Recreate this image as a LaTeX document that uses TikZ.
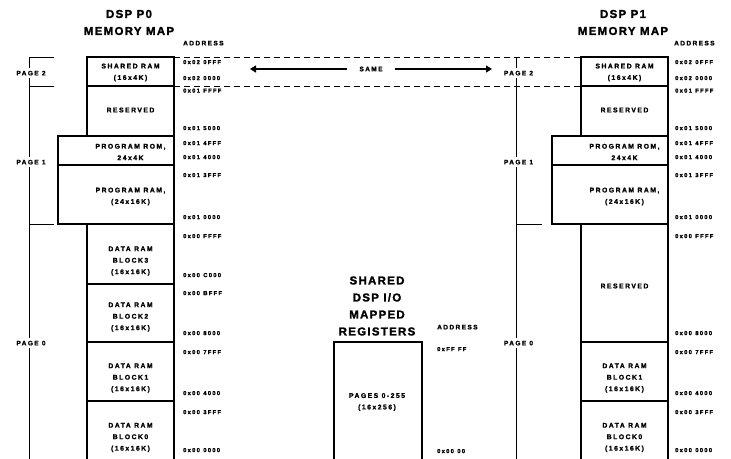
\documentclass[tikz,border=0pt]{standalone}
\usepackage{fontspec}
\usepackage{tikz}
\usetikzlibrary{arrows.meta}
\newfontfamily\mapfont[LetterSpace=22, BoldFeatures={FakeBold=1.6}]{Liberation Sans}
\newfontfamily\headfont[LetterSpace=11, BoldFeatures={FakeBold=1.6}]{Liberation Sans}
\newcommand{\addrfont}{\mapfont\bfseries\fontsize{5.8}{7}\selectfont\spaceskip=3.4pt\relax}

\begin{document}
\begin{tikzpicture}[x=1pt, y=-1pt]
    \tikzset{
        mapline/.style={line width=2.2pt, line join=miter},
        pagebar/.style={line width=0.9pt},
        sameline/.style={line width=0.9pt, dash pattern=on 6pt off 4pt},
        samearrow/.style={line width=1.4pt, -{Triangle[length=6pt, width=7pt]}},
        heading/.style={font=\headfont\bfseries\fontsize{11.5}{17}\selectfont,
            align=center, inner sep=0pt},
        memtext/.style={font=\mapfont\bfseries\fontsize{6.8}{11.5}\selectfont,
            align=center, inner sep=0pt},
        addr/.style={font=\addrfont, anchor=west, inner sep=0pt,
            text height=4.2pt, text depth=0pt},
        addrhead/.style={addr, font=\mapfont\bfseries\fontsize{6.5}{8}\selectfont,
            text height=4.7pt},
        pagelabel/.style={font=\mapfont\bfseries\fontsize{6.5}{8}\selectfont,
            fill=white, inner xsep=1pt, inner ysep=3pt, text height=4.7pt,
            text depth=0pt}
    }
    \useasboundingbox (0,0) rectangle (731,458);
    % DSP P0 memory map
    \node[heading] (title0) at (129,22.5) {DSP P0\\MEMORY MAP};
    \draw[mapline] (87,57) rectangle (174,136);
    \draw[mapline] (87,86) -- (174,86);
    \draw[mapline] (58,136) rectangle (174,224);
    \draw[mapline] (58,165) -- (174,165);
    \draw[mapline] (87,462) |- (174,224) -- (174,462);
    \draw[mapline] (87,284) -- (174,284);
    \draw[mapline] (87,342) -- (174,342);
    \draw[mapline] (87,401) -- (174,401);
    \node[memtext] (sram0) at (130.5,72.5) {SHARED RAM\\(16x4K)};
    \node[memtext] (resv0) at (130.5,110) {RESERVED};
    \node[memtext] (prom0) at (130.5,152) {PROGRAM ROM,\\24x4K};
    \node[memtext] (pram0) at (130.5,196.5) {PROGRAM RAM,\\(24x16K)};
    \node[memtext] (blk30) at (130.5,261) {DATA RAM\\BLOCK3\\(16x16K)};
    \node[memtext] (blk20) at (130.5,317) {DATA RAM\\BLOCK2\\(16x16K)};
    \node[memtext] (blk10) at (130.5,378) {DATA RAM\\BLOCK1\\(16x16K)};
    \node[memtext] (blk00) at (130.5,437.5) {DATA RAM\\BLOCK0\\(16x16K)};
    \node[addrhead] (addr0) at (183,43) {ADDRESS};
    \node[addr] (a0top2) at (183,62) {0x02 0FFF};
    \node[addr] (a0bot2) at (183,78) {0x02 0000};
    \node[addr] (a0top1) at (183,90.5) {0x01 FFFF};
    \node[addr] (a0rsv) at (183,128) {0x01 5000};
    \node[addr] (a0romt) at (183,143) {0x01 4FFF};
    \node[addr] (a0romb) at (183,157) {0x01 4000};
    \node[addr] (a0ramt) at (183,175) {0x01 3FFF};
    \node[addr] (a0bot1) at (183,217) {0x01 0000};
    \node[addr] (a0top0) at (183,236) {0x00 FFFF};
    \node[addr] (a0b3) at (183,275) {0x00 C000};
    \node[addr] (a0b2t) at (183,293) {0x00 BFFF};
    \node[addr] (a0b2) at (183,333) {0x00 8000};
    \node[addr] (a0b1t) at (183,352) {0x00 7FFF};
    \node[addr] (a0b1) at (183,393) {0x00 4000};
    \node[addr] (a0b0t) at (183,412) {0x00 3FFF};
    \node[addr] (a0b0) at (183,450) {0x00 0000};
    \draw[pagebar] (54,57) -| (29,462);
    \draw[pagebar] (29,86) -- (54,86);
    \draw[pagebar] (29,224) -- (54,224);
    \node[pagelabel] (page20) at (31,73) {PAGE 2};
    \node[pagelabel] (page10) at (31,162) {PAGE 1};
    \node[pagelabel] (page00) at (31,343) {PAGE 0};

    % shared RAM is the same on both
    \draw[sameline] (174,57) -- (581,57);
    \draw[sameline] (174,86) -- (581,86);
    \node[font=\mapfont\bfseries\fontsize{6.5}{8}\selectfont, inner xsep=12pt]
        (same) at (371,69) {SAME};
    \coordinate (sameL) at (250,69);
    \coordinate (sameR) at (492,69);
    \draw[samearrow] (same) -- (sameL);
    \draw[samearrow] (same) -- (sameR);

    % shared I/O registers
    \node[heading] (iohead) at (377,306) {SHARED\\DSP I/O\\MAPPED\\REGISTERS};
    \draw[mapline] (334,462) |- (422,342) -- (422,462);
    \node[memtext] (iopages) at (377,402) {PAGES 0-255\\(16x256)};
    \node[addrhead] (addrio) at (437,327) {ADDRESS};
    \node[addr] (aiotop) at (437,349) {0xFF FF};
    \node[addr] (aiobot) at (437,451) {0x00 00};

    % DSP P1 memory map
    \node[heading] (title1) at (623,22.5) {DSP P1\\MEMORY MAP};
    \draw[mapline] (581,57) rectangle (668,136);
    \draw[mapline] (581,86) -- (668,86);
    \draw[mapline] (552,136) rectangle (668,224);
    \draw[mapline] (552,165) -- (668,165);
    \draw[mapline] (581,462) |- (668,224) -- (668,462);
    \draw[mapline] (581,342) -- (668,342);
    \draw[mapline] (581,401) -- (668,401);
    \node[memtext] (sram1) at (624.5,72.5) {SHARED RAM\\(16x4K)};
    \node[memtext] (resv1) at (624.5,110) {RESERVED};
    \node[memtext] (prom1) at (624.5,152) {PROGRAM ROM,\\24x4K};
    \node[memtext] (pram1) at (624.5,196.5) {PROGRAM RAM,\\(24x16K)};
    \node[memtext] (resd1) at (624.5,286) {RESERVED};
    \node[memtext] (blk11) at (624.5,378) {DATA RAM\\BLOCK1\\(16x16K)};
    \node[memtext] (blk01) at (624.5,437.5) {DATA RAM\\BLOCK0\\(16x16K)};
    \node[addrhead] (addr1) at (674,43) {ADDRESS};
    \node[addr] (a1top2) at (675,62) {0x02 0FFF};
    \node[addr] (a1bot2) at (675,78) {0x02 0000};
    \node[addr] (a1top1) at (675,90.5) {0x01 FFFF};
    \node[addr] (a1rsv) at (675,128) {0x01 5000};
    \node[addr] (a1romt) at (675,143) {0x01 4FFF};
    \node[addr] (a1romb) at (675,157) {0x01 4000};
    \node[addr] (a1ramt) at (675,175) {0x01 3FFF};
    \node[addr] (a1bot1) at (675,217) {0x01 0000};
    \node[addr] (a1top0) at (675,236) {0x00 FFFF};
    \node[addr] (a1rsd) at (675,333) {0x00 8000};
    \node[addr] (a1b1t) at (675,352) {0x00 7FFF};
    \node[addr] (a1b1) at (675,393) {0x00 4000};
    \node[addr] (a1b0t) at (675,412) {0x00 3FFF};
    \node[addr] (a1b0) at (675,450) {0x00 0000};
    \draw[pagebar] (516,57) -- (516,462);
    \draw[pagebar] (516,224) -- (542,224);
    \node[pagelabel] (page21) at (518.5,73) {PAGE 2};
    \node[pagelabel] (page11) at (518.5,162) {PAGE 1};
    \node[pagelabel] (page01) at (518.5,343) {PAGE 0};
\end{tikzpicture}
\end{document}
